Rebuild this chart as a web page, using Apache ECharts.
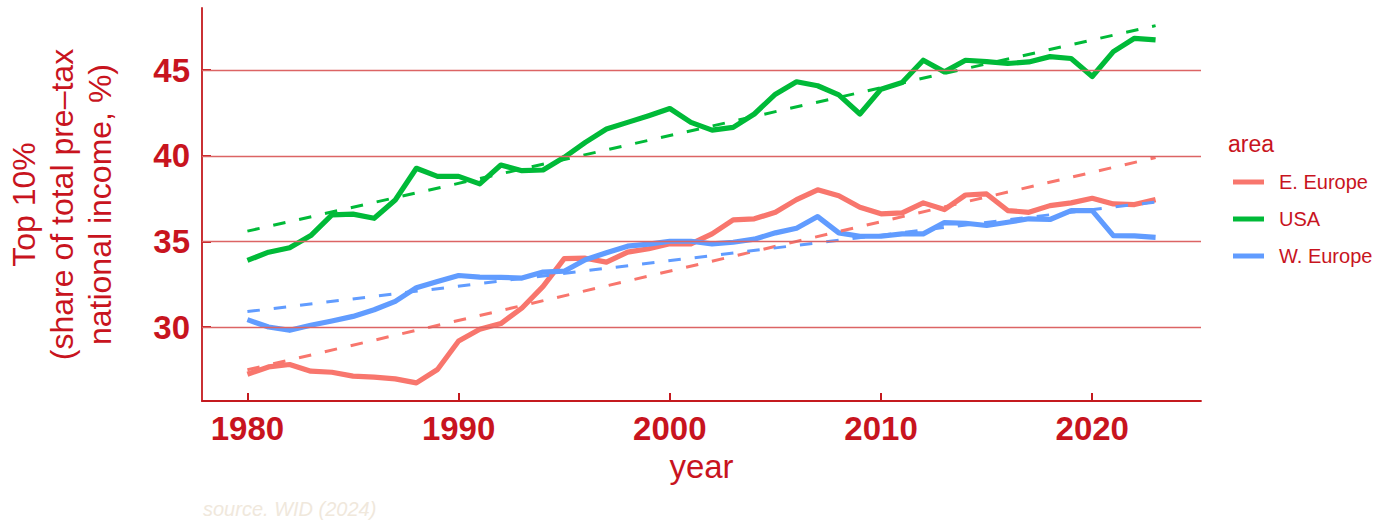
<!DOCTYPE html>
<html>
<head>
<meta charset="utf-8">
<title>Top 10% income share</title>
<script src="https://cdn.jsdelivr.net/npm/echarts@6/dist/echarts.min.js"></script>
<style>
  html, body { margin: 0; padding: 0; background: #ffffff; }
  #chart { width: 1394px; height: 521px; }
</style>
</head>
<body>
<div id="chart"></div>
<script>
// Top 10% share of total pre-tax national income (%), by area
const years = [1980, 1981, 1982, 1983, 1984, 1985, 1986, 1987, 1988, 1989,
               1990, 1991, 1992, 1993, 1994, 1995, 1996, 1997, 1998, 1999,
               2000, 2001, 2002, 2003, 2004, 2005, 2006, 2007, 2008, 2009,
               2010, 2011, 2012, 2013, 2014, 2015, 2016, 2017, 2018, 2019,
               2020, 2021, 2022, 2023];

const eEurope = [27.24, 27.67, 27.81, 27.42, 27.36, 27.13, 27.07, 26.97, 26.74, 27.52,
                 29.18, 29.87, 30.20, 31.11, 32.37, 33.99, 34.02, 33.79, 34.37, 34.57,
                 34.86, 34.86, 35.44, 36.26, 36.32, 36.70, 37.44, 38.01, 37.67, 36.99,
                 36.61, 36.67, 37.25, 36.86, 37.71, 37.77, 36.80, 36.70, 37.09, 37.25,
                 37.52, 37.19, 37.15, 37.44];

const usa = [33.89, 34.37, 34.63, 35.34, 36.55, 36.59, 36.35, 37.42, 39.27, 38.80,
             38.80, 38.36, 39.46, 39.13, 39.17, 39.91, 40.78, 41.56, 41.95, 42.34,
             42.76, 41.95, 41.50, 41.66, 42.44, 43.60, 44.32, 44.09, 43.56, 42.44,
             43.89, 44.28, 45.58, 44.90, 45.58, 45.50, 45.39, 45.48, 45.79, 45.68,
             44.63, 46.08, 46.86, 46.77];

const wEurope = [30.43, 30.00, 29.81, 30.10, 30.35, 30.62, 31.01, 31.50, 32.30, 32.66,
                 33.01, 32.91, 32.90, 32.86, 33.21, 33.26, 33.93, 34.34, 34.72, 34.84,
                 35.01, 35.01, 34.86, 34.95, 35.13, 35.50, 35.77, 36.45, 35.50, 35.30,
                 35.30, 35.44, 35.44, 36.10, 36.06, 35.93, 36.12, 36.32, 36.28, 36.80,
                 36.80, 35.34, 35.32, 35.24];

// linear trend lines (start and end values)
const trendYears = [1980, 2023];
const eEuropeTrend = [27.5, 39.9];
const usaTrend = [35.6, 47.6];
const wEuropeTrend = [30.9, 37.3];

const areaNames = ['E. Europe', 'USA', 'W. Europe'];
const xTicks = [1980, 1990, 2000, 2010, 2020];
const yTicks = [30, 35, 40, 45];

const colors = { 'E. Europe': '#F8766D', 'USA': '#00BA38', 'W. Europe': '#619CFF' };
const textRed = '#c8141e';
const axisRed = '#c41a1f';
const gridRed = '#dc6464';
const FONT = 'Liberation Sans, Arial, Helvetica, sans-serif';

function pairs(xs, ys) { return xs.map((x, i) => [x, ys[i]]); }

const values = { 'E. Europe': eEurope, 'USA': usa, 'W. Europe': wEurope };
const trends = { 'E. Europe': eEuropeTrend, 'USA': usaTrend, 'W. Europe': wEuropeTrend };

const series = [];

// horizontal reference lines at the y tick values
series.push({
  name: 'grid',
  type: 'line',
  data: [],
  silent: true,
  z: 1,
  markLine: {
    silent: true,
    animation: false,
    symbol: ['none', 'none'],
    label: { show: false },
    lineStyle: { color: gridRed, width: 1.3, type: 'solid' },
    emphasis: { disabled: true },
    data: yTicks.map(v => ({ yAxis: v }))
  }
});

areaNames.forEach(name => {
  series.push({
    name: name,
    type: 'line',
    data: pairs(years, values[name]),
    showSymbol: false,
    symbol: 'none',
    z: 3,
    itemStyle: { color: colors[name] },
    lineStyle: { color: colors[name], width: 5.2, cap: 'butt', join: 'round' },
    emphasis: { disabled: true }
  });
});

areaNames.forEach(name => {
  series.push({
    name: name + ' trend',
    type: 'line',
    data: pairs(trendYears, trends[name]),
    showSymbol: false,
    symbol: 'none',
    z: 4,
    itemStyle: { color: colors[name] },
    lineStyle: { color: colors[name], width: 3, type: [12.5, 14], cap: 'butt' },
    emphasis: { disabled: true }
  });
});

const chart = echarts.init(document.getElementById('chart'), null, { renderer: 'svg' });

chart.setOption({
  animation: false,
  backgroundColor: '#ffffff',
  textStyle: { fontFamily: FONT },
  title: {
    text: 'area',
    left: 1228,
    top: 132,
    padding: 0,
    textStyle: { color: textRed, fontSize: 23, fontWeight: 'normal', fontFamily: FONT }
  },
  legend: {
    data: areaNames,
    orient: 'vertical',
    left: 1233,
    top: 172,
    padding: 0,
    icon: 'rect',
    itemWidth: 31,
    itemHeight: 5,
    itemGap: 17,
    selectedMode: false,
    textStyle: { color: textRed, fontSize: 20, fontFamily: FONT, padding: [0, 0, 0, 10] }
  },
  grid: {
    left: 202,
    right: 193,
    top: 8,
    bottom: 120,
    containLabel: false,
    outerBoundsMode: 'none'
  },
  xAxis: {
    type: 'value',
    min: 1977.85,
    max: 2025.15,
    name: 'year',
    nameLocation: 'middle',
    nameGap: 45,
    nameTextStyle: { color: textRed, fontSize: 33, fontFamily: FONT },
    axisLine: { show: true, onZero: false, lineStyle: { color: axisRed, width: 1.8 } },
    axisTick: { show: true, inside: true, length: 8, customValues: xTicks, lineStyle: { color: axisRed, width: 2 } },
    axisLabel: {
      customValues: xTicks,
      formatter: v => String(v),
      color: textRed,
      fontSize: 33,
      fontWeight: 'bold',
      fontFamily: FONT,
      margin: 11
    },
    splitLine: { show: false }
  },
  yAxis: {
    type: 'value',
    min: 25.68,
    max: 48.63,
    name: 'Top 10%\n(share of total pre–tax\nnational income, %)',
    nameLocation: 'middle',
    nameRotate: 90,
    nameGap: 83,
    nameTextStyle: { color: textRed, fontSize: 32, lineHeight: 38, fontFamily: FONT, align: 'center' },
    axisLine: { show: true, onZero: false, lineStyle: { color: axisRed, width: 1.8 } },
    axisTick: { show: true, inside: true, length: 9, customValues: yTicks, lineStyle: { color: axisRed, width: 2 } },
    axisLabel: {
      customValues: yTicks,
      formatter: v => String(v),
      color: textRed,
      fontSize: 33,
      fontWeight: 'bold',
      fontFamily: FONT,
      margin: 12
    },
    splitLine: { show: false }
  },
  graphic: [{
    type: 'text',
    left: 203,
    top: 499,
    silent: true,
    style: {
      text: 'source. WID (2024)',
      fill: '#f0e8dc',
      font: 'italic 20px ' + FONT
    }
  }],
  series: series
});
</script>
</body>
</html>
